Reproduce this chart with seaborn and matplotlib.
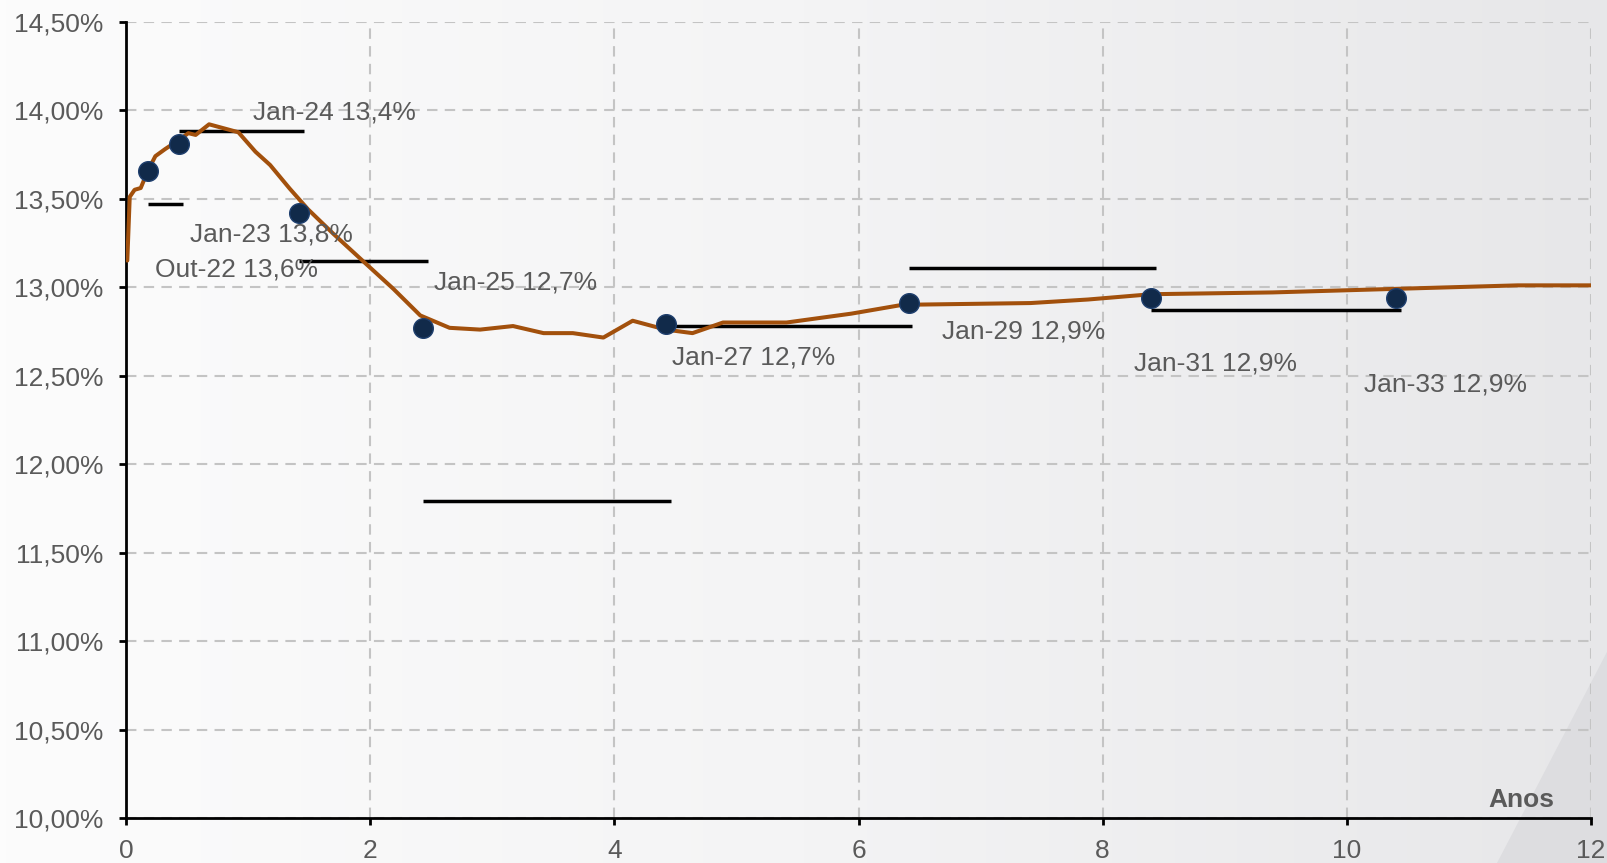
import numpy as np
import pandas as pd
import matplotlib
matplotlib.use('Agg')
import matplotlib.pyplot as plt
import seaborn as sns
from matplotlib.ticker import FuncFormatter

# curve (anos, taxa %)
curve_x = [0.01, 0.03, 0.07, 0.12, 0.18, 0.24, 0.32, 0.43, 0.51, 0.57, 0.68, 0.92,
           1.06, 1.18, 1.34, 1.49, 1.70, 1.96, 2.19, 2.41, 2.65, 2.90, 3.17, 3.42,
           3.66, 3.91, 4.15, 4.42, 4.64, 4.89, 5.41, 5.94, 6.36, 7.41, 7.88, 8.40,
           9.39, 10.39, 11.40, 12.0]
curve_y = [13.15, 13.51, 13.55, 13.56, 13.66, 13.74, 13.78, 13.83, 13.87, 13.86, 13.92, 13.875,
           13.765, 13.69, 13.557, 13.44, 13.30, 13.135, 12.99, 12.84, 12.77, 12.76, 12.78, 12.74,
           12.74, 12.715, 12.81, 12.76, 12.74, 12.80, 12.80, 12.85, 12.90, 12.91, 12.93, 12.96,
           12.97, 12.99, 13.01, 13.01]

# points
pt_x = [0.176, 0.43, 1.42, 2.43, 4.42, 6.41, 8.40, 10.40]
pt_y = [13.656, 13.81, 13.42, 12.77, 12.79, 12.91, 12.94, 12.94]

# horizontal segments
seg_y = [13.47, 13.88, 13.15, 11.79, 12.78, 13.11, 12.87]
seg_x0 = [0.176, 0.43, 1.42, 2.43, 4.42, 6.41, 8.40]
seg_x1 = [0.47, 1.46, 2.47, 4.46, 6.44, 8.44, 10.44]

# labels
lab_text = ['Jan-24 13,4%', 'Jan-23 13,8%', 'Out-22 13,6%', 'Jan-25 12,7%',
            'Jan-27 12,7%', 'Jan-29 12,9%', 'Jan-31 12,9%', 'Jan-33 12,9%']
lab_x = [1.04, 0.52, 0.235, 2.52, 4.475, 6.68, 8.26, 10.14]
lab_y = [13.985, 13.30, 13.10, 13.025, 12.60, 12.75, 12.57, 12.45]

sns.set_style('white')
plt.rcParams['font.family'] = ['Liberation Sans', 'DejaVu Sans']

fig = plt.figure(figsize=(16.08, 8.63), dpi=100)

# background gradient
bg = fig.add_axes([0, 0, 1, 1], zorder=-10)
grad = np.linspace(0, 1, 256)[None, :]
cmap = matplotlib.colors.LinearSegmentedColormap.from_list('bg', ['#fcfcfc', '#f4f4f5', '#e7e7e9'])
bg.imshow(grad, aspect='auto', cmap=cmap, extent=[0, 1, 0, 1])
bg.fill([0.931, 1.0, 1.0], [0.0, 0.0, 0.247], color='#dddde0', lw=0)
bg.set_xlim(0, 1)
bg.set_ylim(0, 1)
bg.axis('off')

ax = fig.add_axes([0.0784, 0.0521, 0.911, 0.9228])
ax.patch.set_alpha(0)

df = pd.DataFrame({'anos': curve_x, 'taxa': curve_y})
sns.lineplot(data=df, x='anos', y='taxa', ax=ax, color='#a2500c', lw=2.9, zorder=3)
ax.hlines(seg_y, seg_x0, seg_x1, color='black', lw=2.5, zorder=2)
pts = pd.DataFrame({'anos': pt_x, 'taxa': pt_y})
sns.scatterplot(data=pts, x='anos', y='taxa', ax=ax, s=200, color='#112a4a',
                edgecolor='#1f3f6e', linewidth=1, zorder=4)

for t, x, y in zip(lab_text, lab_x, lab_y):
    ax.text(x, y, t, fontsize=19, color='#5a5a5a', va='center', ha='left', zorder=5)

ax.set_xlim(0, 12)
ax.set_ylim(10, 14.5)
ax.set_xticks(range(0, 13, 2))
ax.set_yticks(np.arange(10, 14.51, 0.5))
ax.yaxis.set_major_formatter(FuncFormatter(lambda v, p: f'{v:.2f}%'.replace('.', ',')))
ax.grid(True, ls=(0, (5, 3.5)), color='#c4c4c4', lw=1.5)
for s in ['top', 'right']:
    ax.spines[s].set_visible(False)
for s in ['left', 'bottom']:
    ax.spines[s].set_color('black')
    ax.spines[s].set_linewidth(2)
ax.tick_params(axis='both', length=5, width=2, color='black', labelsize=19,
               labelcolor='#5a5a5a', direction='out', bottom=True, left=True)
ax.tick_params(axis='y', pad=11)
ax.tick_params(axis='x', pad=10)
ax.set_xlabel('')
ax.set_ylabel('')
ax.text(0.975, 0.023, 'Anos', transform=ax.transAxes, fontsize=19, fontweight='bold',
        color='#5a5a5a', ha='right', va='center')

fig.savefig('out.png', dpi=100)
